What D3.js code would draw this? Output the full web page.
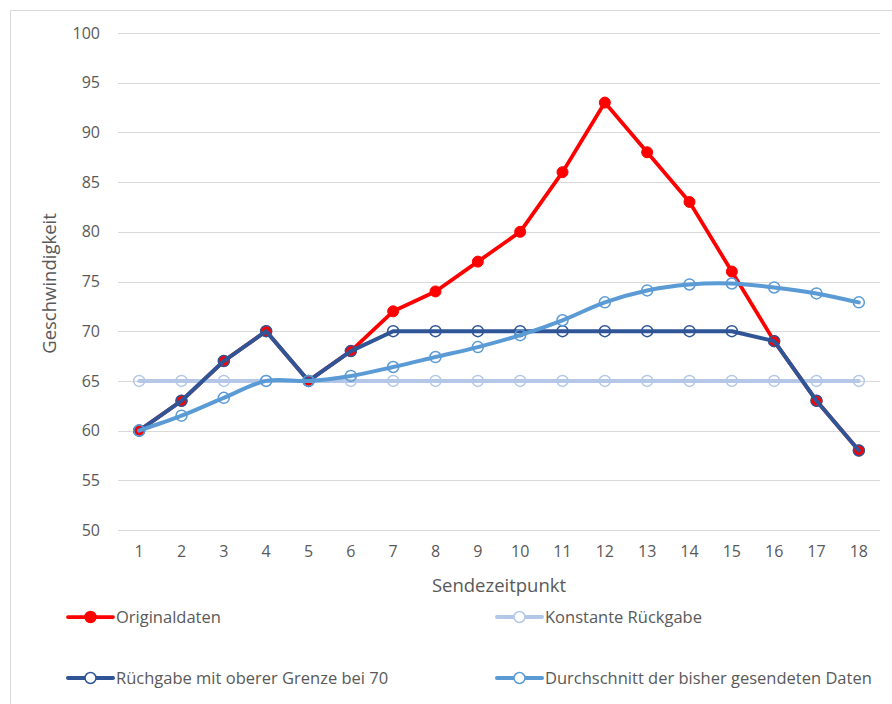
<!DOCTYPE html>
<html>
<head>
<meta charset="utf-8">
<script src="https://cdn.jsdelivr.net/npm/d3@7"></script>
<style>
  body { margin: 0; background: #fff; }
  text { font-family: "Open Sans", "Noto Sans", sans-serif; fill: #595959; }
</style>
</head>
<body>
<div class="canvas"></div>
<script>
// data
const zeitpunkte = d3.range(1, 19);
const originaldaten = [60, 63, 67, 70, 65, 68, 72, 74, 77, 80, 86, 93, 88, 83, 76, 69, 63, 58];
const konstant = [65, 65, 65, 65, 65, 65, 65, 65, 65, 65, 65, 65, 65, 65, 65, 65, 65, 65];
const obereGrenze = [60, 63, 67, 70, 65, 68, 70, 70, 70, 70, 70, 70, 70, 70, 70, 69, 63, 58];
const durchschnitt = [60, 61.5, 63.3, 65, 65, 65.5, 66.4, 67.4, 68.4, 69.6, 71.1, 72.9, 74.1, 74.7, 74.8, 74.4, 73.8, 72.9];
const yTicks = [50, 55, 60, 65, 70, 75, 80, 85, 90, 95, 100];

const series = [
    { name: 'Originaldaten', values: originaldaten, color: '#ff0000', width: 3.75, filled: true, smooth: false },
    { name: 'Konstante Rückgabe', values: konstant, color: '#b4c7e7', width: 4, filled: false, smooth: false },
    { name: 'Rüchgabe mit oberer Grenze bei 70', values: obereGrenze, color: '#2f5597', width: 4, filled: false, smooth: false },
    { name: 'Durchschnitt der bisher gesendeten Daten', values: durchschnitt, color: '#5b9bd5', width: 4, filled: false, smooth: true }
];

const svg = d3.select('.canvas')
    .append('svg')
    .attr('width', 892)
    .attr('height', 704);

// chart area border (runs off the right and bottom edge)
svg.append('rect')
    .attr('x', 10.5).attr('y', 10.5)
    .attr('width', 900).attr('height', 720)
    .attr('fill', 'none')
    .attr('stroke', '#d9d9d9');

const margin = { top: 33, left: 118 };
const graphWidth = 762;
const graphHeight = 497;

const graph = svg.append('g')
    .attr('transform', `translate(${margin.left}, ${margin.top})`);

const x = d3.scaleBand()
    .domain(zeitpunkte)
    .range([0, graphWidth]);

const y = d3.scaleLinear()
    .domain([50, 100])
    .range([graphHeight, 0]);

// gridlines
graph.append('g')
    .selectAll('line')
    .data(yTicks)
    .join('line')
    .attr('x1', 0).attr('x2', graphWidth)
    .attr('y1', d => Math.round(y(d)) + 0.5)
    .attr('y2', d => Math.round(y(d)) + 0.5)
    .attr('stroke', '#d9d9d9')
    .attr('stroke-width', 1);

// axes
const yAxisGroup = graph.append('g')
    .call(d3.axisLeft(y).tickValues(yTicks).tickSize(0).tickPadding(18));
const xAxisGroup = graph.append('g')
    .attr('transform', `translate(0, ${graphHeight})`)
    .call(d3.axisBottom(x).tickSize(0).tickPadding(16));

[xAxisGroup, yAxisGroup].forEach(g => {
    g.select('.domain').remove();
    g.selectAll('text')
        .attr('font-size', 16)
        .attr('fill', '#595959')
        .style('font-family', '"Open Sans", "Noto Sans", sans-serif');
});

// axis titles
svg.append('text')
    .attr('x', margin.left + graphWidth / 2)
    .attr('y', 592)
    .attr('text-anchor', 'middle')
    .attr('font-size', 18.5)
    .text('Sendezeitpunkt');

svg.append('text')
    .attr('transform', `translate(56, ${margin.top + graphHeight / 2 + 2}) rotate(-90)`)
    .attr('text-anchor', 'middle')
    .attr('font-size', 18.5)
    .text('Geschwindigkeit');

const cx = i => x(zeitpunkte[i]) + x.bandwidth() / 2;

// lines and markers
series.forEach(s => {
    const line = d3.line()
        .x((d, i) => cx(i))
        .y(d => y(d))
        .curve(s.smooth ? d3.curveCatmullRom.alpha(0.5) : d3.curveLinear);

    graph.append('path')
        .datum(s.values)
        .attr('d', line)
        .attr('fill', 'none')
        .attr('stroke', s.color)
        .attr('stroke-width', s.width)
        .attr('stroke-linejoin', 'round')
        .attr('stroke-linecap', 'round');

    graph.append('g')
        .selectAll('circle')
        .data(s.values)
        .join('circle')
        .attr('cx', (d, i) => cx(i))
        .attr('cy', d => y(d))
        .attr('r', 5.5)
        .attr('fill', s.filled ? s.color : 'none')
        .attr('stroke', s.color)
        .attr('stroke-width', s.filled ? 1 : 1.5);
});

// legend
const legendPos = [
    { x: 68, y: 617 },
    { x: 497, y: 617 },
    { x: 68, y: 678 },
    { x: 497, y: 678 }
];

const legend = svg.append('g')
    .selectAll('g')
    .data(series)
    .join('g')
    .attr('transform', (d, i) => `translate(${legendPos[i].x}, ${legendPos[i].y})`);

legend.append('line')
    .attr('x1', 0).attr('x2', 45)
    .attr('y1', 0).attr('y2', 0)
    .attr('stroke', d => d.color)
    .attr('stroke-width', d => d.width)
    .attr('stroke-linecap', 'round');

legend.append('circle')
    .attr('cx', 22.5)
    .attr('cy', 0)
    .attr('r', 5.5)
    .attr('fill', d => d.filled ? d.color : '#fff')
    .attr('stroke', d => d.color)
    .attr('stroke-width', 1.5);

legend.append('text')
    .attr('x', 48)
    .attr('y', 0)
    .attr('dy', '0.35em')
    .attr('font-size', 16.5)
    .text(d => d.name);
</script>
</body>
</html>
